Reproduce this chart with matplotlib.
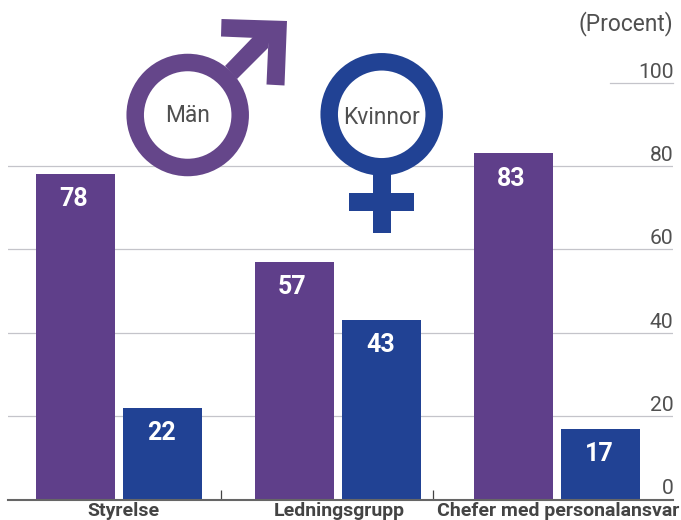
import numpy as np
import matplotlib
matplotlib.use("Agg")
import matplotlib.pyplot as plt
from matplotlib.patches import Circle, Polygon, Rectangle

plt.rcParams['font.family'] = ['Roboto', 'DejaVu Sans']

categories = ['Styrelse', 'Ledningsgrupp', 'Chefer med personalansvar']
men = [78, 57, 83]
women = [22, 43, 17]
yticks = [0, 20, 40, 60, 80, 100]
purple = '#5f3f8a'
blue = '#214294'
sym_purple = '#65468a'
grid = '#c4c4ca'
text = '#505050'

W, H = 681, 520
fig = plt.figure(figsize=(W / 100, H / 100), dpi=100)

# main axes: x in group units, y in percent
left, right = 8, 673
y0, y100 = 499.5, 82.5
ax = fig.add_axes([left / W, 1 - y0 / H, (right - left) / W, (y0 - y100) / H])
ax.set_ylim(0, 100)
ax.set_xlim((left - 119) / 219, (right - 119) / 219)
ax.patch.set_visible(False)

x = np.arange(len(categories))
width = 0.36
off = 0.1986
b1 = ax.bar(x - off, men, width, color=purple, zorder=3)
b2 = ax.bar(x + off, women, width, color=blue, zorder=3)
for bars, vals, shift in ((b1, men, -1.5), (b2, women, -0.5)):
    for r, v in zip(bars, vals):
        ax.annotate(str(v), (r.get_x() + r.get_width() / 2, v), xytext=(shift, -9.5),
                    textcoords='offset points', ha='center', va='top',
                    color='white', fontsize=18, fontweight='bold', zorder=4)

for s in ['top', 'right', 'left']:
    ax.spines[s].set_visible(False)
ax.spines['bottom'].set_color('#666666')
ax.spines['bottom'].set_linewidth(1.5)
ax.spines['bottom'].set_zorder(5)

ax.set_yticks(yticks)
ax.tick_params(axis='y', length=0, labelleft=False)
ax.grid(axis='y', color=grid, linewidth=0.9, zorder=1)
ax.set_axisbelow(True)
# the 100 line only runs under its label
ax.get_ygridlines()[-1].set_visible(False)
ax.plot([(610 - 119) / 219, (right - 119) / 219], [100, 100], color=grid, lw=0.9,
        clip_on=False)
for t in yticks:
    ax.annotate(str(t), (1, t), xycoords=('axes fraction', 'data'), xytext=(0.5, 3.6),
                textcoords='offset points', ha='right', va='baseline',
                fontsize=15.2, color=text, zorder=6)

ax.set_xticks([(221 - 119) / 219, (433 - 119) / 219])
ax.set_xticklabels([])
ax.tick_params(axis='x', direction='in', length=7, width=0.9, color='#444444')
for xc, name in zip([123, 339, 558], categories):
    fig.text(xc / W, 1 - 511 / H, name, ha='center', va='center', fontsize=14,
             fontweight='bold', color='#444444')

fig.text(673 / W, 1 - 24 / H, '(Procent)', ha='right', va='center', fontsize=16.4,
         color=text)

# gender symbols, in pixel coordinates
ov = fig.add_axes([0, 0, 1, 1])
ov.set_xlim(0, W)
ov.set_ylim(H, 0)
ov.axis('off')
ov.patch.set_visible(False)

ov.add_patch(Polygon([(225, 66), (253, 37), (270, 37), (268, 48), (237, 79)], color=sym_purple, lw=0))
ov.add_patch(Polygon([(221.5, 19), (287, 21), (284.5, 85.5), (266.5, 84.5), (268.5, 38.5), (221, 36.5)],
                     color=sym_purple, lw=0))
ov.add_patch(Circle((187.7, 115), 52.5, fill=False, ec=sym_purple, lw=12.6))
ov.text(187.7, 115, 'Män', ha='center', va='center', fontsize=16.4, color=text)

ov.add_patch(Rectangle((372.7, 170), 18, 62.5, color=blue, lw=0))
ov.add_patch(Rectangle((349.3, 193.3), 64.7, 18, color=blue, lw=0))
ov.add_patch(Circle((381.7, 114.3), 52.5, fill=False, ec=blue, lw=12.6))
ov.text(381.7, 117, 'Kvinnor', ha='center', va='center', fontsize=16.4, color=text)

fig.savefig('out.png', dpi=100)
